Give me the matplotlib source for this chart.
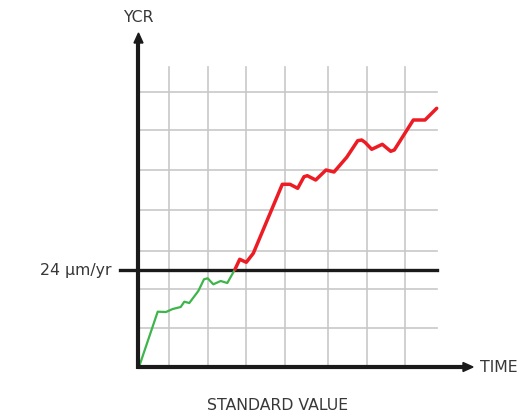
import matplotlib
matplotlib.use("Agg")
import matplotlib.pyplot as plt

# Data (units: time, value; origin at axis crossing)
green_time = [0, 18.7, 27, 33.7, 41.7, 45.3, 50.3, 59.3, 65, 68.7, 74.3, 81.7, 88.3, 96]
green_value = [0, 55.3, 55, 58, 60, 65.3, 64, 76, 87.7, 88.7, 82.7, 86, 84, 97.7]
red_time = [96, 100.7, 107.3, 114.3, 143.3, 151, 158.7, 165, 168.3, 176.7, 187, 195,
            207.7, 218.7, 222.7, 226, 232.7, 243.3, 251.7, 255.3, 274.3, 286, 297.7]
red_value = [97.7, 107.7, 104.7, 113.7, 182.7, 182.7, 178.7, 190.3, 191.3, 187, 197, 195,
             209.7, 226.3, 227, 224.7, 217.7, 222.7, 215.7, 217, 247, 247, 258.7]
threshold = 97
threshold_label = "24 µm/yr"
grid_x = [30.3, 68.7, 107.3, 146, 189, 227.7, 266.3]
grid_y = [39, 78, 116.5, 157, 197, 237, 275]
grid_right = 297.7
grid_top = 300
x_label = "TIME"
y_label = "YCR"
bottom_label = "STANDARD VALUE"

plt.rcParams['font.family'] = ['DejaVu Sans']
fig = plt.figure(figsize=(5.22, 4.18), dpi=100)
ax = fig.add_axes([0, 0, 1, 1])
ax.set_xlim(-139, 522 - 139)
ax.set_ylim(-(418 - 367), 367)
ax.axis('off')

gc = '#c8c8c8'
for gx in grid_x:
    ax.plot([gx, gx], [0, grid_top], color=gc, lw=1.2, zorder=1)
for gy in grid_y:
    ax.plot([0, grid_right], [gy, gy], color=gc, lw=1.2, zorder=1)

ax.plot([-19, grid_right], [threshold, threshold], color='#1a1a1a', lw=2.4, zorder=2)

ax.plot(green_time, green_value, color='#3db54a', lw=1.6, zorder=3,
        solid_joinstyle='round', solid_capstyle='round')
ax.plot(red_time, red_value, color='#ed1c24', lw=2.5, zorder=3,
        solid_joinstyle='round', solid_capstyle='round')

# axes with arrows
ax.plot([-0.5, -0.5], [-1.5, 326], color='#1a1a1a', lw=3, zorder=4, solid_capstyle='butt')
ax.plot([-2, 326], [0, 0], color='#1a1a1a', lw=3, zorder=4, solid_capstyle='butt')
ax.add_patch(plt.Polygon([[-5, 324], [4, 324], [-0.5, 334]], closed=True,
                         color='#1a1a1a', zorder=5))
ax.add_patch(plt.Polygon([[324, -4.5], [324, 4.5], [334, 0]], closed=True,
                         color='#1a1a1a', zorder=5))

tc = '#383838'
fs = 11.3
ax.text(-1, 350, y_label, ha='center', va='center', fontsize=fs, color=tc)
ax.text(341, 0, x_label, ha='left', va='center', fontsize=fs, color=tc)
ax.text(-27, threshold, threshold_label, ha='right', va='center', fontsize=fs, color=tc)
ax.text(139, -38, bottom_label, ha='center', va='center', fontsize=fs, color=tc)

fig.savefig('out.png', dpi=100)
